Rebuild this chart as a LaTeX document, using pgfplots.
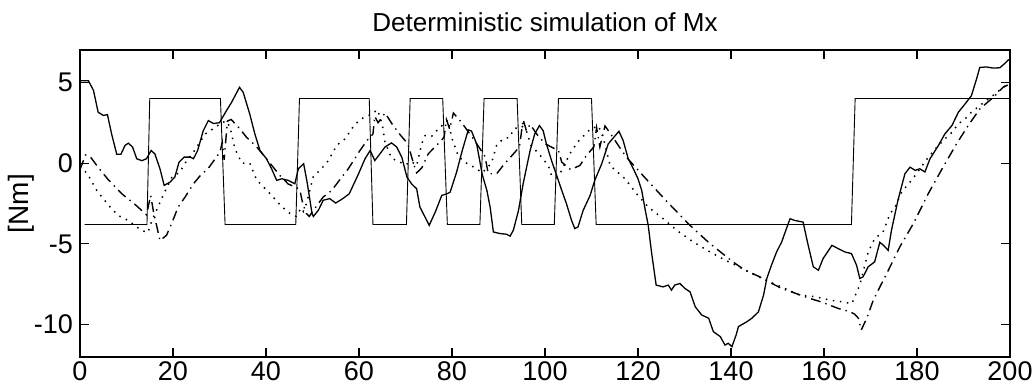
\documentclass[border=0pt]{standalone}
\usepackage{fontspec}
\setmainfont{Liberation Sans}
\usepackage{pgfplots}
\pgfplotsset{compat=1.18}
\begin{document}
\begin{tikzpicture}
\path[use as bounding box] (-40pt,-16.5pt) rectangle (477.5pt,178.5pt);
\begin{axis}[
  at={(0pt,0pt)}, anchor=south west,
  scale only axis, width=465pt, height=153.5pt,
  xmin=0, xmax=200, ymin=-12, ymax=7,
  xtick={0,20,...,200}, ytick={-10,-5,0,5},
  tick align=inside, xtick pos=both, ytick pos=both,
  major tick length=4.5pt,
  axis line style={line width=0.7pt},
  every tick/.style={line width=0.6pt, black},
  /pgf/number format/assume math mode=true,
  ticklabel style={font=\fontsize{13.5}{15}\selectfont},
  xticklabel style={yshift=1pt},
  title={Deterministic simulation of Mx},
  every axis title/.style={at={(axis description cs:0.5,1)}, anchor=base, yshift=9pt, font=\fontsize{13}{15}\selectfont},
  ylabel={[Nm]},
  every axis y label/.style={at={(axis description cs:-0.0634,0.5)}, rotate=90, anchor=center, font=\fontsize{14}{16}\selectfont},
  clip=true,
]
% square wave input
\addplot[black, line width=0.45pt] coordinates {
(1,-3.8)(14.4,-3.8)(15,4)(30.2,4)(31.2,-3.8)(46.4,-3.8)(47.2,4)(62.2,4)(63,-3.8)(70.2,-3.8)(71,4)(78,4)(79,-3.8)(86,-3.8)(86.9,4)(94,4)(95,-3.8)(102,-3.8)(102.9,4)(110,4)(111,-3.8)(165.9,-3.8)(166.7,4)(200,4)
};
% measured (solid)
\addplot[black, line width=0.65pt] coordinates {
(0,5.1)(1.8,5.1)(2.9,4.5)(3.9,3.15)(5.0,2.95)(5.9,3.0)(6.8,1.8)(7.9,0.55)(8.8,0.55)(9.7,1.1)(10.4,1.23)(11.3,1.0)(12.2,0.27)(13.3,0.15)(14.3,0.27)(15.3,0.78)(16.1,0.57)(17.2,-0.35)(18.1,-1.38)(19.4,-1.17)(20.4,-0.86)(21.3,0.06)(22.4,0.37)(23.7,0.37)(24.4,0.27)(25.3,0.78)(26.5,2.0)(27.6,2.63)(28.7,2.45)(30.0,2.5)(31.5,3.25)(32.6,3.76)(34.3,4.69)(35.1,4.38)(36.5,3.04)(37.6,1.81)(38.7,0.78)(40.1,0.27)(41.2,-0.35)(42.3,-1.07)(43.4,-0.97)(44.8,-1.07)(46.2,-1.28)(46.95,-0.35)(48.1,-0.04)(48.9,-1.28)(49.9,-3.13)(50.2,-3.3)(51.3,-2.9)(52.3,-2.3)(53.7,-2.2)(55.0,-2.47)(56.5,-2.2)(57.9,-1.9)(58.4,-1.59)(59.9,-0.66)(61.3,0.27)(62.4,0.78)(63.4,0.16)(64.5,0.57)(65.6,1.0)(67.0,1.25)(68.1,1.0)(69.2,0.37)(70.3,-0.86)(71.3,-1.28)(72.4,-1.59)(73.1,-2.72)(74.2,-3.34)(75.1,-3.85)(76.4,-3.03)(77.8,-2.0)(78.9,-1.9)(79.6,-1.8)(81.0,-0.55)(82.1,0.67)(83.5,2.06)(84.2,1.98)(85.3,1.19)(86.5,-0.7)(87.5,-1.69)(88.2,-2.72)(88.9,-4.26)(90.3,-4.36)(91.7,-4.4)(92.5,-4.52)(93.2,-4.15)(94.3,-2.93)(95.3,-1.28)(96.8,0.78)(97.8,1.81)(98.8,2.32)(99.6,2.01)(100.3,1.19)(101.4,0.16)(102.5,-0.76)(103.6,-1.69)(104.6,-2.5)(105.7,-3.54)(106.4,-4.05)(107.1,-3.95)(108.2,-2.93)(109.7,-2.0)(110.7,-1.07)(112.2,-0.04)(113.6,1.19)(114.8,1.6)(115.9,1.97)(116.8,1.4)(117.9,0.27)(119,-0.35)(120,-0.97)(120.8,-1.69)(121.5,-2.82)(122.2,-3.85)(122.9,-5.5)(123.9,-7.55)(125.4,-7.66)(126.5,-7.55)(127.2,-7.86)(127.9,-7.55)(129.0,-7.45)(130.1,-7.76)(131.2,-7.97)(132.3,-8.89)(133.7,-9.4)(135.2,-9.6)(136.2,-10.43)(137.7,-10.74)(138.7,-11.26)(139.4,-11.15)(140.2,-11.36)(141.1,-10.64)(141.6,-10.12)(142.3,-10.0)(143.4,-9.82)(144.5,-9.6)(145.9,-9.2)(147,-8.17)(147.7,-7.14)(148.7,-6.32)(149.8,-5.5)(150.9,-4.88)(151.9,-4.07)(152.7,-3.44)(153.7,-3.55)(155.5,-3.65)(156.6,-5.09)(157.7,-6.42)(158.8,-6.63)(159.8,-5.91)(161.7,-5.09)(163.1,-5.3)(164.5,-5.5)(165.9,-5.6)(167.0,-6.32)(167.7,-7.14)(168.4,-7.04)(169.5,-6.42)(170.9,-6.11)(172.0,-4.9)(172.8,-5.09)(173.8,-5.4)(174.5,-4.17)(175.9,-2.3)(177.4,-0.66)(178.5,-0.25)(179.6,-0.45)(180.6,-0.35)(181.7,-0.55)(182.8,0.27)(184.6,1.09)(186.0,1.81)(187.5,2.32)(188.9,3.15)(190.3,3.65)(191.7,4.17)(192.8,5.2)(193.5,5.92)(194.9,5.95)(196.4,5.88)(197.8,5.9)(198.9,6.17)(199.6,6.38)(200,6.4)
};
% model 1 (dotted)
\addplot[black, line width=0.75pt, dash pattern=on 0.75pt off 2.8pt] coordinates {
(0,-0.2)(1.6,-0.66)(3.6,-1.69)(5,-2.2)(6.5,-2.72)(8.2,-3.24)(10.4,-3.55)(12.2,-3.96)(13.6,-4.2)(14.6,-4.3)(15.4,-3.6)(16.8,-2.7)(17.7,-2.1)(19.7,-0.9)(21.5,-0.55)(22.6,0.0)(24.7,0.8)(26.9,1.8)(29,2.2)(30.5,2.5)(31.5,2.6)(32.3,2.2)(33.3,0.9)(34.8,0.0)(36.5,0.0)(38,-1.05)(40.9,-1.9)(43.4,-2.7)(45.1,-3.1)(46.5,-3.3)(47.5,-2.8)(48,-3.0)(48.7,-2.5)(50.2,-0.8)(51.6,-0.45)(53.4,0.15)(55.2,1.1)(57,1.5)(59.1,2.4)(60.9,2.8)(62.5,3.0)(64,3.3)(65,2.4)(65.6,1.3)(67,0.3)(68.5,0.1)(70,-0.1)(71.3,0.1)(72.4,-0.15)(73.5,1.2)(74.2,1.7)(75.6,1.65)(77,2.1)(78.5,2.5)(79.2,2.65)(79.9,1.6)(81.4,0.4)(83.1,0.0)(85,-0.3)(86.5,-0.6)(88.5,0.0)(89.6,1.1)(91,1.5)(92.5,1.6)(93.2,2.1)(95,2.3)(96,2.0)(97,1.1)(98.9,0.5)(100.7,-0.15)(101.4,-0.75)(102.5,-0.9)(103.5,-0.5)(105.4,0.6)(107,1.3)(109.7,2.1)(111.5,2.3)(112.5,1.6)(114,-0.15)(117.2,-0.97)(119.7,-1.9)(122.2,-2.72)(125.4,-3.44)(128.6,-4.22)(131.9,-4.88)(135.5,-5.5)(138.7,-6.0)(142.3,-6.5)(145,-6.9)(149.1,-7.45)(151.6,-7.76)(154.8,-8.17)(158.1,-8.27)(161.3,-8.48)(163.8,-8.58)(166,-8.7)(167,-8.0)(167.7,-7.55)(169.5,-5.5)(170.9,-4.67)(172.7,-4.27)(174.2,-3.13)(175.3,-2.72)(176.7,-1.79)(178.5,-1.17)(179.6,-0.77)(182,0.2)(184,0.9)(186,1.5)(187.5,1.9)(188.9,2.43)(190.3,2.73)(191.7,3.15)(193.5,3.56)(195,3.9)(196.8,4.28)(198.5,4.69)(200,5.0)
};
% model 2 (dash-dot)
\addplot[black, line width=0.7pt, dash pattern=on 5pt off 2.5pt on 0.7pt off 2.5pt] coordinates {
(0,-0.4)(1.2,0.5)(2.2,0.4)(4,-0.3)(6,-1.0)(9,-1.9)(12,-2.6)(14.3,-3.2)(15.2,-2.0)(15.8,-3.0)(17.2,-4.8)(18.6,-4.47)(19.7,-3.75)(21.1,-2.72)(22.6,-2.1)(24.4,-1.28)(26.2,-0.66)(27.4,-0.4)(30.1,0.68)(30.6,1.3)(31,0.2)(31.7,2.6)(32.5,2.7)(34.4,2.12)(35.8,1.6)(38,1.0)(40,0.3)(43.0,-0.77)(44.8,-1.3)(46.5,-1.5)(47.3,-1.69)(47.9,-2.5)(48.7,-3.13)(49.3,-3.3)(50.5,-2.8)(52.3,-2.1)(54.1,-1.7)(56.3,-0.87)(57.7,-0.35)(60.2,0.78)(62,1.5)(63,1.8)(63.4,2.9)(64.1,2.5)(65.6,3.1)(67.4,2.3)(69,1.7)(70.5,1.2)(71.7,0.0)(72.4,-0.6)(73.5,-0.3)(74.9,0.58)(77.0,1.19)(78.3,1.6)(78.8,2.7)(79.5,2.1)(80.3,3.1)(82.1,2.5)(84.6,1.5)(86.0,0.9)(87.1,0.4)(87.8,-0.66)(89.6,-0.66)(91.0,-0.15)(93.6,0.7)(94.5,1.0)(95.3,2.7)(96.0,2.0)(96.8,2.4)(98.2,1.8)(100,1.2)(102,0.9)(102.9,0.78)(103.6,0.06)(105.5,-0.4)(107.5,-0.15)(108.9,0.47)(110.5,1.0)(111.1,2.2)(111.8,1.0)(112.9,2.3)(113.9,1.9)(116.5,0.78)(117.5,0.37)(121.7,-0.97)(126.0,-2.31)(130.8,-3.75)(135.3,-4.94)(140.4,-6.11)(143,-6.63)(145.9,-7.0)(148,-7.33)(150.9,-7.76)(153,-7.97)(157,-8.38)(159.5,-8.6)(163.1,-9.0)(165.6,-9.2)(166.6,-9.35)(167.4,-9.6)(168,-10.33)(169.2,-9.6)(170.6,-8.48)(172.4,-7.45)(173.5,-6.83)(176.3,-5.19)(179.2,-3.75)(182.4,-1.9)(185.6,-0.25)(188.5,1.19)(191.0,2.32)(193.5,3.35)(196.4,4.07)(198.5,4.69)(200,4.9)
};
\end{axis}
\end{tikzpicture}
\end{document}
